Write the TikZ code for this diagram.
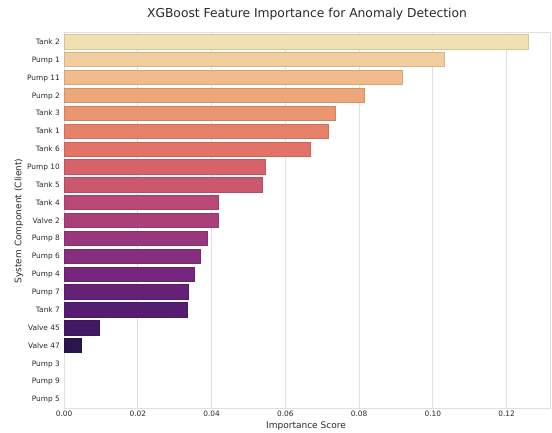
\documentclass[tikz,border=0pt]{standalone}
\usepackage{fontspec}
\setmainfont{DejaVu Sans}
\usepackage{tikz}
\usetikzlibrary{positioning}

\definecolor{txtgray}{RGB}{40,40,40}
\definecolor{gridgray}{RGB}{224,224,224}
\definecolor{b0}{RGB}{240,224,178}
\definecolor{b1}{RGB}{242,206,158}
\definecolor{b2}{RGB}{240,188,140}
\definecolor{b3}{RGB}{236,168,122}
\definecolor{b4}{RGB}{234,148,112}
\definecolor{b5}{RGB}{230,130,105}
\definecolor{b6}{RGB}{226,115,102}
\definecolor{b7}{RGB}{216,98,106}
\definecolor{b8}{RGB}{204,88,112}
\definecolor{b9}{RGB}{186,72,118}
\definecolor{b10}{RGB}{170,64,122}
\definecolor{b11}{RGB}{152,54,126}
\definecolor{b12}{RGB}{136,46,126}
\definecolor{b13}{RGB}{118,38,124}
\definecolor{b14}{RGB}{102,32,120}
\definecolor{b15}{RGB}{86,28,114}
\definecolor{b16}{RGB}{66,26,100}
\definecolor{b17}{RGB}{44,20,76}

\tikzset{
  ticklbl/.style = {font=\fontsize{7.4}{8}\selectfont, text=txtgray, inner sep=0},
  axlbl/.style = {font=\fontsize{9}{10}\selectfont, text=txtgray, inner sep=0},
  ttl/.style = {font=\fontsize{12.3}{14}\selectfont, text=txtgray, inner sep=0},
  bar/.style = {fill=#1, draw=#1!88!black, line width=0.5pt},
  gridline/.style = {draw=gridgray, line width=0.9pt},
}

\begin{document}
\begin{tikzpicture}[x=1pt, y=-1pt]
\useasboundingbox (0,0) rectangle (552,432);
\node [ttl, anchor=base] (title) at (307,17.5) {XGBoost Feature Importance for Anomaly Detection};

% grid and x ticks
\foreach \t [count=\j from 0] in {0.00,0.02,0.04,0.06,0.08,0.10,0.12} {
  \draw [gridline] ({64+\t*3689},32.8) -- ({64+\t*3689},408);
  \node [ticklbl] (xtick\j) at ({64+\t*3689},414) {\t};
}
\draw [gridline] (64,32.8) rectangle (550,408);

% bars
\foreach \lbl/\val/\col [count=\i from 0] in {
  Tank 2/0.1259/b0, Pump 1/0.1031/b1, Pump 11/0.0916/b2, Pump 2/0.0815/b3,
  Tank 3/0.0734/b4, Tank 1/0.0715/b5, Tank 6/0.0667/b6, Pump 10/0.0546/b7,
  Tank 5/0.0538/b8, Tank 4/0.0418/b9, Valve 2/0.0418/b10, Pump 8/0.0387/b11,
  Pump 6/0.0369/b12, Pump 4/0.0352/b13, Pump 7/0.0338/b14, Tank 7/0.0333/b15,
  Valve 45/0.0095/b16, Valve 47/0.0048/b17, Pump 3/0/b17, Pump 9/0/b17, Pump 5/0/b17} {
  \pgfmathsetmacro{\yc}{41.7+\i*17.87}
  \ifdim\val pt>0pt
    \draw [bar=\col] (64,{\yc-7.15}) rectangle ({64+\val*3689},{\yc+7.15});
  \fi
  \node [ticklbl, anchor=base east] (ytick\i) at (60,{\yc+2.7}) {\lbl};
}

\node [axlbl, anchor=base] (xlab) at (306,428) {Importance Score};
\node [axlbl, rotate=90] (ylab) at (19,221) {System Component (Client)};
\end{tikzpicture}
\end{document}
